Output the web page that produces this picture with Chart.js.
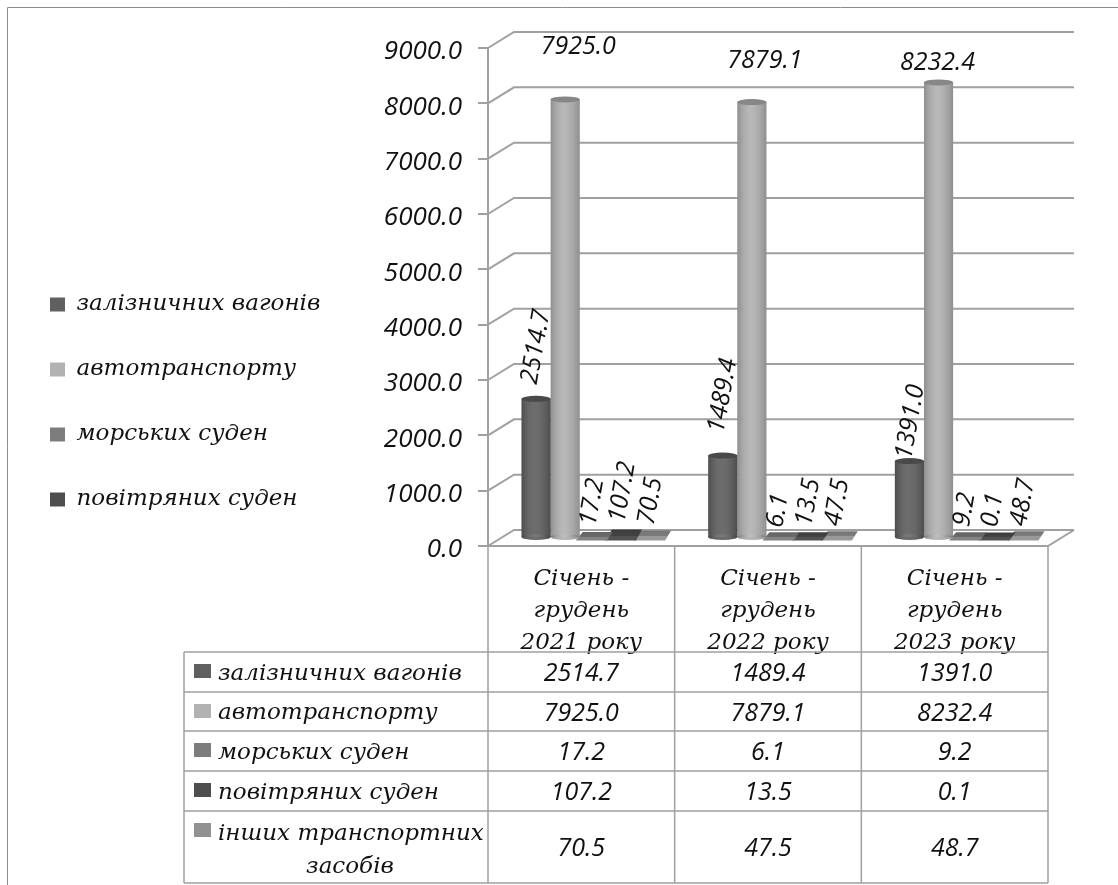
<!DOCTYPE html>
<html lang="uk">
<head>
<meta charset="utf-8">
<title>chart</title>
<script src="https://cdn.jsdelivr.net/npm/chart.js@4"></script>
<style>
  html, body { margin: 0; padding: 0; background: #fff; }
  canvas { display: block; }
</style>
</head>
<body>
<canvas id="chart" width="1118" height="885"></canvas>
<script>
// данные
const categories = [
  ["Січень -", "грудень", "2021 року"],
  ["Січень -", "грудень", "2022 року"],
  ["Січень -", "грудень", "2023 року"],
];
const seriesNames = ["залізничних вагонів", "автотранспорту", "морських суден", "повітряних суден", "інших транспортних засобів"];
const railcars = [2514.7, 1489.4, 1391.0];
const roadVehicles = [7925.0, 7879.1, 8232.4];
const seaVessels = [17.2, 6.1, 9.2];
const aircraft = [107.2, 13.5, 0.1];
const otherVehicles = [70.5, 47.5, 48.7];
const seriesValues = [railcars, roadVehicles, seaVessels, aircraft, otherVehicles];

// оформление
const seriesColors = ["#606060", "#b2b2b2", "#7d7d7d", "#4e4e4e", "#929292"];
const NUM_FONT = "'Open Sans', sans-serif";
const TEXT_FONT = "'DejaVu Serif', serif";
const LINE = "#a0a0a0";
const DEPTH_X = 26, DEPTH_Y = -16;   // глубина стенки
const BAR_DX = 13, BAR_DY = -8;      // столбики стоят посередине глубины
const TABLE_LEFT = 184;
const TABLE_ROWS = [652, 692, 731, 771, 811, 883];

// сдвиг подписей значений относительно верха столбика [dx, dy], по сериям
const labelShift = [
  [[0, -52], [0, -60], [1, -39]],
  [[13, -53], [13, -41], [-1, -20]],
  [[-2, -35], [-3, -27], [-3, -28]],
  [[-1, -40], [-2, -35], [-4, -28]],
  [[-2, -33], [-2, -33], [-3, -33]],
];
const labelAngle = [-80, 0, -80, -80, -80];

function darker(hex, k) {
  const n = parseInt(hex.slice(1), 16);
  const f = (v) => Math.min(255, Math.round(v * k));
  return `rgb(${f(n >> 16)},${f((n >> 8) & 255)},${f(n & 255)})`;
}

// стенки и линии сетки псевдо-3D
const wallPlugin = {
  id: "wall",
  beforeDatasetsDraw(chart) {
    const { ctx, chartArea: a, scales: { y } } = chart;
    ctx.save();
    ctx.strokeStyle = LINE;
    ctx.lineWidth = 2;
    y.ticks.forEach((t) => {
      const py = y.getPixelForValue(t.value);
      ctx.beginPath();
      ctx.moveTo(a.left, py);
      ctx.lineTo(a.left + DEPTH_X, py + DEPTH_Y);
      ctx.lineTo(a.right + DEPTH_X, py + DEPTH_Y);
      ctx.stroke();
    });
    ctx.beginPath();
    ctx.moveTo(a.left, a.bottom);
    ctx.lineTo(a.right, a.bottom);
    ctx.lineTo(a.right + DEPTH_X, a.bottom + DEPTH_Y);
    ctx.stroke();
    ctx.restore();
  },
};

// цилиндры: сами столбики рисует Chart.js, здесь только сдвиг, тень и эллипсы
const cylinderPlugin = {
  id: "cylinder",
  beforeDatasetDraw(chart) {
    chart.ctx.save();
    chart.ctx.translate(BAR_DX, BAR_DY);
  },
  afterDatasetDraw(chart, args) {
    const { ctx } = chart;
    const color = seriesColors[args.index];
    args.meta.data.forEach((bar) => {
      const rx = bar.width / 2;
      const h = bar.base - bar.y;
      if (h > 20) {
        const g = ctx.createLinearGradient(bar.x - rx, 0, bar.x + rx, 0);
        g.addColorStop(0, "rgba(0,0,0,0.2)");
        g.addColorStop(0.45, "rgba(255,255,255,0.08)");
        g.addColorStop(1, "rgba(0,0,0,0.2)");
        ctx.beginPath();
        ctx.ellipse(bar.x, bar.base, rx, 3, 0, 0, Math.PI * 2);
        ctx.fillStyle = color;
        ctx.fill();
        ctx.fillStyle = g;
        ctx.fill();
        ctx.fillRect(bar.x - rx, bar.y, bar.width, h);
        ctx.beginPath();
        ctx.ellipse(bar.x, bar.y, rx, 3, 0, 0, Math.PI * 2);
        ctx.fillStyle = darker(color, 0.76);
        ctx.fill();
      } else {
        // низкие столбики выглядят как плоские плашки
        const top = bar.base - 5 - h * 0.5;
        const bottom = bar.base + 3.5;
        const g = ctx.createLinearGradient(0, top, 0, bottom);
        g.addColorStop(0, darker(color, 0.8));
        g.addColorStop(0.55, darker(color, 0.85));
        g.addColorStop(0.55, darker(color, 1.05));
        g.addColorStop(1, darker(color, 1.05));
        ctx.beginPath();
        ctx.moveTo(bar.x - rx - 4, bottom);
        ctx.lineTo(bar.x + rx - 2, bottom);
        ctx.lineTo(bar.x + rx + 4, top);
        ctx.lineTo(bar.x - rx + 3, top);
        ctx.closePath();
        ctx.fillStyle = g;
        ctx.fill();
      }
    });
    ctx.restore();
  },
  afterDatasetsDraw(chart) {
    // подписи значений
    const { ctx } = chart;
    ctx.save();
    ctx.fillStyle = "#111";
    ctx.font = `italic 25px ${NUM_FONT}`;
    ctx.textAlign = "center";
    ctx.textBaseline = "middle";
    chart.data.datasets.forEach((ds, i) => {
      chart.getDatasetMeta(i).data.forEach((bar, j) => {
        const [dx, dy] = labelShift[i][j];
        ctx.save();
        ctx.translate(bar.x + BAR_DX + dx, bar.y + BAR_DY + dy);
        ctx.rotate((labelAngle[i] * Math.PI) / 180);
        ctx.fillText(ds.data[j].toFixed(1), 0, 0);
        ctx.restore();
      });
    });
    ctx.restore();
  },
};

// таблица данных под графиком и рамка
const tablePlugin = {
  id: "dataTable",
  afterDraw(chart) {
    const { ctx, chartArea: a, scales: { x } } = chart;
    const step = (a.right - a.left) / categories.length;
    const last = TABLE_ROWS[TABLE_ROWS.length - 1];
    ctx.save();
    // рамка картинки
    ctx.strokeStyle = "#8c8c8c";
    ctx.lineWidth = 1;
    ctx.beginPath();
    ctx.moveTo(7.5, 885);
    ctx.lineTo(7.5, 7.5);
    ctx.lineTo(1118, 7.5);
    ctx.stroke();

    ctx.strokeStyle = LINE;
    ctx.lineWidth = 1.5;
    ctx.beginPath();
    categories.forEach((c, j) => {
      const right = x.getPixelForValue(j) + step / 2;
      ctx.moveTo(right, a.bottom);
      ctx.lineTo(right, last);
    });
    ctx.moveTo(a.left, a.bottom);
    ctx.lineTo(a.left, last);
    ctx.moveTo(TABLE_LEFT, TABLE_ROWS[0]);
    ctx.lineTo(TABLE_LEFT, last);
    TABLE_ROWS.forEach((r) => {
      ctx.moveTo(TABLE_LEFT, r);
      ctx.lineTo(a.right, r);
    });
    ctx.stroke();

    ctx.textBaseline = "middle";
    seriesNames.forEach((name, i) => {
      const top = TABLE_ROWS[i], bottom = TABLE_ROWS[i + 1];
      const mid = (top + bottom) / 2 + 2;
      ctx.fillStyle = seriesColors[i];
      ctx.fillRect(194, top + 12, 17, 14);
      ctx.fillStyle = "#111";
      ctx.font = `italic 23px ${TEXT_FONT}`;
      if (i === 4) {
        ctx.textAlign = "left";
        ctx.fillText("інших транспортних", 218, top + 23);
        ctx.textAlign = "center";
        ctx.fillText("засобів", 350, top + 56);
      } else {
        ctx.textAlign = "left";
        ctx.fillText(name, 218, mid);
      }
      ctx.font = `italic 25px ${NUM_FONT}`;
      ctx.textAlign = "center";
      seriesValues[i].forEach((v, j) => {
        ctx.fillText(v.toFixed(1), x.getPixelForValue(j), mid);
      });
    });
    ctx.restore();
  },
};

// легенда не влезает в отведённую ей колонку, поэтому двигаем её коробку руками
const legendBox = {
  id: "legendBox",
  beforeDraw(chart) {
    const l = chart.legend;
    l.left = 8;
    l.right = 400;
    l.top = 251;
    l.bottom = 560;
  },
};

const datasets = seriesNames.map((name, i) => ({
  label: name,
  data: seriesValues[i],
  backgroundColor: seriesColors[i],
  borderWidth: 0,
  barPercentage: 1,
  categoryPercentage: 0.78,
  clip: false,
}));

new Chart(document.getElementById("chart"), {
  type: "bar",
  data: { labels: categories, datasets },
  plugins: [wallPlugin, cylinderPlugin, tablePlugin, legendBox],
  options: {
    responsive: false,
    animation: false,
    layout: { padding: { left: 40, top: 48, right: 70, bottom: 0 } },
    plugins: {
      tooltip: { enabled: false },
      legend: {
        position: "left",
        align: "start",
        labels: {
          filter: (item) => item.datasetIndex < 4,
          boxWidth: 15,
          boxHeight: 14,
          padding: 42,
          color: "#111",
          font: { family: TEXT_FONT, style: "italic", size: 23 },
        },
      },
    },
    scales: {
      x: {
        grid: { display: false },
        border: { display: false },
        ticks: {
          color: "#111",
          padding: 9,
          maxRotation: 0,
          font: { family: TEXT_FONT, style: "italic", size: 23, lineHeight: 1.4 },
        },
        afterFit: (s) => { s.height = 339; },
      },
      y: {
        min: 0,
        max: 9000,
        grid: { drawOnChartArea: false, tickLength: 10, color: LINE, lineWidth: 2 },
        border: { color: LINE, width: 2 },
        ticks: {
          stepSize: 1000,
          color: "#111",
          padding: 16,
          labelOffset: 4,
          callback: (v) => Number(v).toFixed(1),
          font: { family: NUM_FONT, style: "italic", size: 26 },
        },
        afterFit: (s) => { s.width = 488 - 40 - s.chart.legend.width; },
      },
    },
  },
});
</script>
</body>
</html>
